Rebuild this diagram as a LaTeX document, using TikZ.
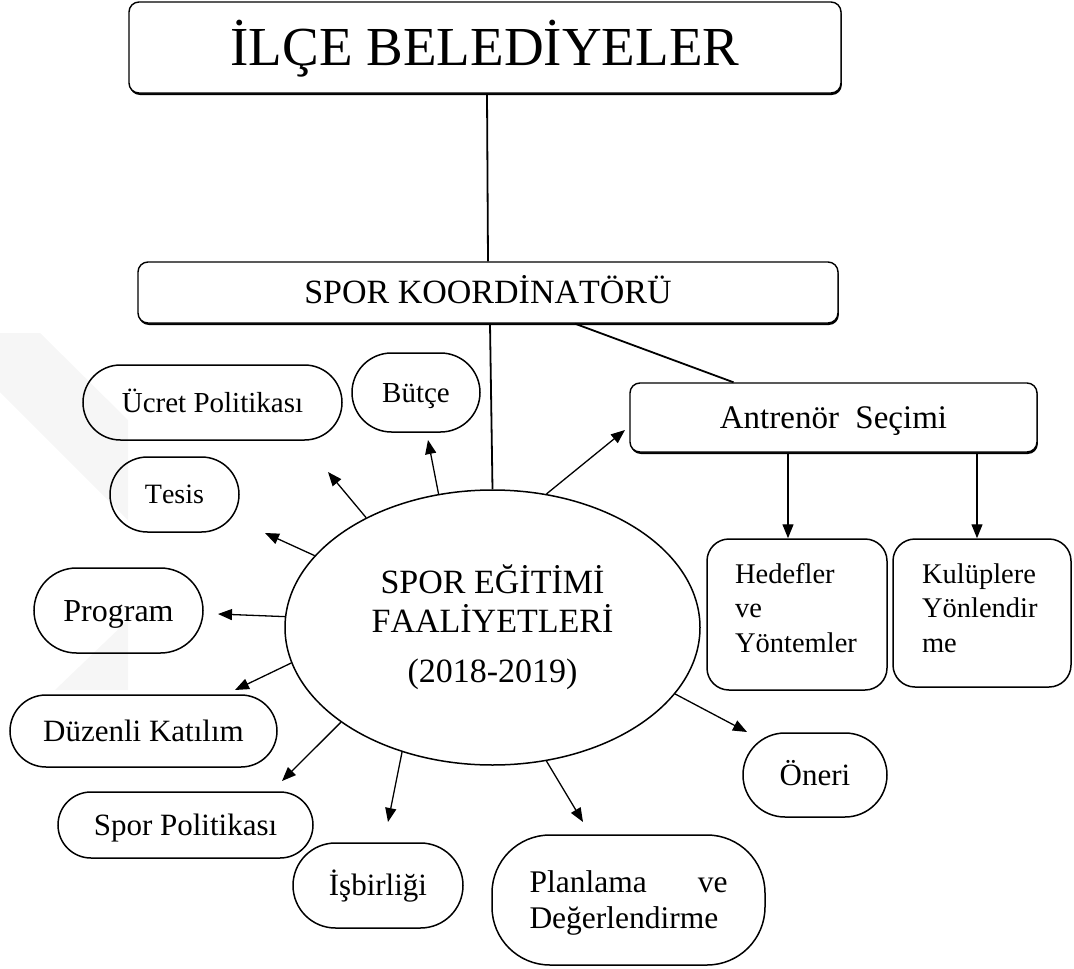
\documentclass[tikz,border=0pt]{standalone}
\usepackage{fontspec}
\usepackage{graphicx}
\setmainfont{Liberation Serif}[Kerning=Off,Ligatures=NoCommon]
\usetikzlibrary{shapes.geometric,shapes.misc,arrows.meta,shadows,calc}
\newcommand{\mysc}[2]{\scalebox{#1}{#2}}
\begin{document}
\begin{tikzpicture}[x=1pt,y=-1pt,
  hbox/.style={draw, fill=white, line width=1.4pt, rounded corners=10pt, inner sep=0pt,
    text depth=0pt,
    drop shadow={shadow xshift=0.8pt, shadow yshift=-2pt, opacity=1, fill=black}},
  pill/.style={draw, line width=1.5pt, rounded rectangle, inner sep=0pt, text depth=0pt},
  sqbox/.style={draw, line width=1.5pt, rounded corners=22pt, inner sep=0pt},
  conn/.style={line width=1.8pt},
  arr/.style={line width=1.3pt, -{Triangle[length=14pt,width=11pt]}},
]
\useasboundingbox (0,0) rectangle (1074,969);
% faint watermark
\fill[gray!7] (0,333) -- (40,333) -- (128,420) -- (128,520) -- (0,392) -- cycle;
\fill[gray!7] (128,620) -- (128,690) -- (55,690) -- cycle;

% top level boxes
\node[hbox, minimum width=712pt, minimum height=91pt, text height=36.3pt]
  (top) at (485,47.5) {\mysc{5.5}{İLÇE BELEDİYELER}};
\node[hbox, minimum width=700pt, minimum height=61pt, text height=22.4pt]
  (coord) at (488,292.5) {\mysc{3.4}{SPOR KOORDİNATÖRÜ}};
\node[hbox, minimum width=407pt, minimum height=69pt, text height=21.8pt,
  drop shadow={shadow xshift=0.5pt, shadow yshift=-1.2pt, opacity=1, fill=black}]
  (antr) at (833.5,417.5) {\mysc{3.3}{Antrenör\ \ Seçimi}};

% central ellipse
\node[draw, ellipse, line width=1.5pt, minimum width=415pt, minimum height=275pt,
  inner sep=0pt, text height=23pt, text depth=92pt] (spor) at (492.5,627.5)
  {\renewcommand{\arraystretch}{0.907}\mysc{3.4}{\begin{tabular}[t]{@{}c@{}}SPOR EĞİTİMİ\\FAALİYETLERİ\\[3.82pt](2018-2019)\end{tabular}}};

% leaves
\node[pill, minimum width=259pt, minimum height=75pt, text height=19.1pt] (ucret) at (212.5,402.5) {\mysc{2.9}{Ücret Politikası}};
\node[pill, minimum width=128pt, minimum height=79pt, text height=19.1pt] (butce) at (416,392.5) {\mysc{2.9}{Bütçe}};
\node[pill, minimum width=129pt, minimum height=75pt, text height=18.5pt] (tesis) at (174.5,494.5) {\mysc{2.8}{Tesis}};
\node[pill, minimum width=169pt, minimum height=85pt, text height=21.1pt] (program) at (118.5,610.5) {\mysc{3.2}{Program}};
\node[pill, minimum width=267pt, minimum height=72pt, text height=20.5pt] (duzenli) at (143.5,731) {\mysc{3.1}{Düzenli Katılım}};
\node[pill, minimum width=255pt, minimum height=66pt, text height=20.5pt] (sporpol) at (185.5,825) {\mysc{3.1}{Spor Politikası}};
\node[pill, minimum width=170pt, minimum height=85pt, text height=20.5pt] (isbir) at (378,885.5) {\mysc{3.1}{İşbirliği}};
\node[pill, minimum width=144pt, minimum height=84pt, text height=20.5pt] (oneri) at (815,775) {\mysc{3.1}{Öneri}};
\node[draw, line width=1.5pt, rounded corners=58pt, inner sep=0pt,
  minimum width=273pt, minimum height=130pt, text height=21pt, text depth=36pt]
  (plan) at (628.5,900)
  {\renewcommand{\arraystretch}{0.952}\mysc{3.15}{\begin{tabular}[t]{@{}l@{}}\makebox[62.86pt]{Planlama\hfill ve}\\Değerlendirme\end{tabular}}};

% right boxes
\node[sqbox, minimum width=180pt, minimum height=151pt, text height=20pt, text depth=83pt]
  (hed) at (797,614.5)
  {\renewcommand{\arraystretch}{1.009}\mysc{2.85}{\begin{tabular}[t]{@{}p{43.5pt}@{}}Hedefler\\ve\\Yöntemler\end{tabular}}};
\node[sqbox, minimum width=178pt, minimum height=148pt, text height=20pt, text depth=80pt]
  (kul) at (982,613)
  {\renewcommand{\arraystretch}{1.009}\mysc{2.85}{\begin{tabular}[t]{@{}p{42.1pt}@{}}Kulüplere\\Yönlendir\\me\end{tabular}}};

% connectors
\draw[conn] ([xshift=2pt]top.south) -- (coord.north);
\draw[conn] ([xshift=2pt]coord.south) -- (spor.north);
\draw[conn] ([xshift=87pt]coord.south) -- ([xshift=-100pt]antr.north);

\draw[arr] ([xshift=-9pt]hed.north |- antr.south) -- ([xshift=-9pt]hed.north);
\draw[arr] ([xshift=-5pt]kul.north |- antr.south) -- ([xshift=-5pt]kul.north);

\draw[arr] (spor.112.7) -- ($(butce.center)+(12,47.5)$);
\draw[arr] (spor.139) -- ($(ucret.center)+(115.5,69.5)$);
\draw[arr] (spor.158.8) -- ($(tesis.center)+(90.5,38.5)$);
\draw[arr] (spor.177.1) -- ($(program.center)+(99.5,3.5)$);
\draw[arr] (spor.190.6) -- ($(duzenli.center)+(91.5,-41)$);
\draw[arr] (spor.212.4) -- ($(sporpol.center)+(96.5,-44)$);
\draw[arr] (spor.234.3) -- ($(isbir.center)+(10,-63.5)$);
\draw[arr] (spor.292.4) -- ($(plan.center)+(-45.5,-78)$);
\draw[arr] (spor.340.7) -- ($(oneri.center)+(-68,-43)$);
\draw[arr] (spor.68.8) -- ($(antr.center)+(-208.5,12.5)$);
\end{tikzpicture}
\end{document}
